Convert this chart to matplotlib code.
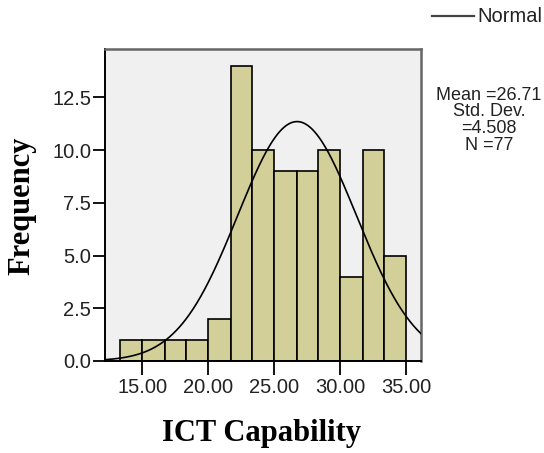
import numpy as np
import matplotlib
matplotlib.use("Agg")
import matplotlib.pyplot as plt

# histogram of ICT Capability (SPSS style)
bin_edges = [13.33, 15.0, 16.67, 18.33, 20.0, 21.67, 23.33, 25.0, 26.67,
             28.33, 30.0, 31.67, 33.33, 35.0]
counts = [1, 1, 1, 1, 2, 14, 10, 9, 9, 10, 4, 10, 5]
mean = 26.71
std = 4.508
n = 77
x_ticks = [15, 20, 25, 30, 35]
x_tick_labels = ["15.00", "20.00", "25.00", "30.00", "35.00"]
y_ticks = [0, 2.5, 5, 7.5, 10, 12.5]
y_tick_labels = ["0.0", "2.5", "5.0", "7.5", "10.0", "12.5"]

sans = "Liberation Sans"
serif = "Liberation Serif"

fig = plt.figure(figsize=(5.44, 4.53), dpi=100)
ax = fig.add_axes([105 / 544, 1 - 361 / 453, 316 / 544, 312 / 453])
ax.set_facecolor("#f0f0f0")

widths = np.diff(bin_edges)
ax.bar(bin_edges[:-1], counts, width=widths, align="edge",
       color="#d3cf98", edgecolor="black", linewidth=1.2, zorder=2)

xlo, xhi = 12.16, 36.1
xs = np.linspace(xlo, xhi, 400)
bw = 5 / 3
ys = n * bw / (std * np.sqrt(2 * np.pi)) * np.exp(-0.5 * ((xs - mean) / std) ** 2)
ax.plot(xs, ys, color="black", linewidth=1.2, zorder=3)

ax.set_xlim(xlo, xhi)
ax.set_ylim(0, 14.8)
ax.set_xticks(x_ticks)
ax.set_xticklabels(x_tick_labels, fontfamily=sans, fontsize=14.5)
ax.set_yticks(y_ticks)
ax.set_yticklabels(y_tick_labels, fontfamily=sans, fontsize=14.5)
ax.tick_params(axis="x", direction="out", length=10, width=1.3, pad=2,
               colors="black", labelcolor="#222222")
ax.tick_params(axis="y", direction="out", length=9, width=1.3, pad=1,
               colors="black", labelcolor="#222222")

for s in ["top", "right"]:
    ax.spines[s].set_color("#666666")
    ax.spines[s].set_linewidth(1.8)
for s in ["left", "bottom"]:
    ax.spines[s].set_color("black")
    ax.spines[s].set_linewidth(1.4)

fig.text(262 / 544, 1 - 434 / 453, "ICT Capability", fontfamily=serif,
         fontweight="bold", fontsize=22, ha="center", va="center")
fig.text(22 / 544, 1 - 206 / 453, "Frequency", fontfamily=serif,
         fontweight="bold", fontsize=22, ha="center", va="center",
         rotation=90)

# legend
fig.lines.append(plt.Line2D([432 / 544, 474 / 544], [1 - 16 / 453, 1 - 16 / 453],
                            color="#444444", linewidth=1.6,
                            transform=fig.transFigure))
fig.text(477 / 544, 1 - 16 / 453, "Normal", fontfamily=sans, fontsize=14.5,
         ha="left", va="center", color="#222222")

stats = ["Mean =%.2f" % mean, "Std. Dev.", "=%.3f" % std, "N =%d" % n]
for i, line in enumerate(stats):
    fig.text(489 / 544, 1 - (95 + i * 16.8) / 453, line, fontfamily=sans,
             fontsize=13, ha="center", va="center", color="#222222",
             linespacing=1.0)

fig.savefig("out.png", dpi=100)
